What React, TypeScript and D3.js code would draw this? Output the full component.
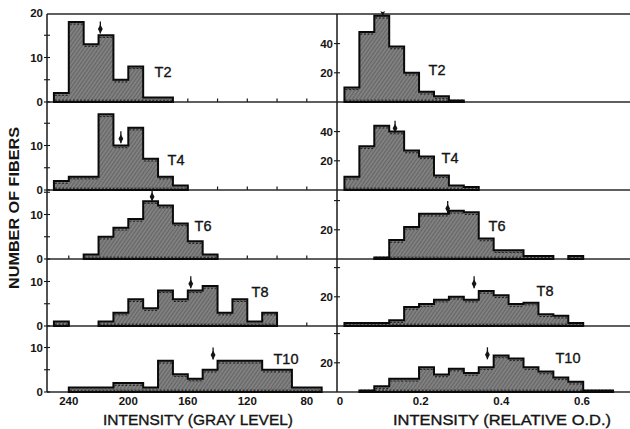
import React from 'react';
import * as d3 from 'd3';

// ---------- DATA ----------
const panelNames = ['T2', 'T4', 'T6', 'T8', 'T10'];

// Left: gray-level histograms, bins of 10 starting at 250 and going down
const leftBinStart = 250;
const leftBinWidth = -10;
const leftT2 = [2, 18, 13, 15, 5, 8, 1, 1];
const leftT4 = [2, 3, 3, 17, 10, 14, 7, 3, 1];
const leftT6 = [0, 0, 1, 5, 7, 9, 13, 12, 8, 4, 1];
const leftT8 = [1, 0, 0, 1, 3, 6, 4, 8, 6, 8, 9, 3, 6, 1, 3];
const leftT10 = [0, 1, 1, 1, 2, 2, 1, 7, 4, 3, 5, 7, 7, 7, 5, 5, 1, 1];
const leftCounts = [leftT2, leftT4, leftT6, leftT8, leftT10];

// Right: relative O.D. histograms
const rightBinStart = 0.011;
const rightBinWidth = 0.037;
const rightT2 = [10, 48, 59, 38, 20, 7, 4, 1];
const rightT4 = [9, 30, 44, 40, 27, 23, 10, 3, 2];
const rightT6 = [0, 0, 1, 13, 22, 31, 31, 33, 32, 14, 6, 6, 2, 2, 0, 2];
const rightT8 = [2, 2, 2, 4, 13, 15, 18, 20, 18, 24, 21, 15, 16, 8, 7, 2];
const rightT10 = [0, 1, 4, 9, 9, 17, 12, 16, 13, 17, 25, 23, 17, 14, 10, 7, 1, 1];
const rightCounts = [rightT2, rightT4, rightT6, rightT8, rightT10];

// Mean markers (arrows): position and level they point at
const leftArrowX = [218.8, 205, 184, 158, 143];
const leftArrowY = [15.4, 10.5, 13, 8.5, 7.3];
const rightArrowX = [0.106, 0.1365, 0.267, 0.3325, 0.3655];
const rightArrowY = [59, 39.2, 31.5, 25.8, 22.4];

const leftXTickLabels = [240, 200, 160, 120, 80];
const leftXMinorTicks = [240, 220, 200, 180, 160, 140, 120, 100, 80];
const rightXTickLabels = [0, 0.2, 0.4, 0.6];
const leftYTicks = [0, 5, 10, 15, 20];
const rightYTicks = [20, 40];

// ---------- LAYOUT ----------
const W = 630;
const H = 429;
const AX_L = 47;
const AX_M = 337;
const X_END = 630;
const TOP = 14;
const bases = [102, 190, 259, 326, 392];
const tops = [14, 102, 190, 259, 326];
const labelPosL: [number, number][] = [[163, 72], [176, 160], [203, 226], [260, 292], [286, 359]];
const labelPosR: [number, number][] = [[437, 70], [450, 158], [497, 226], [545, 291], [568, 358]];

const xL = d3.scaleLinear().domain([240, 80]).range([68.8, 306.8]);
const xR = d3.scaleLinear().domain([0, 0.6]).range([340, 582]);
const yLeft = (i: number) => d3.scaleLinear().domain([0, 20]).range([bases[i], bases[i] - 89]);
const yRight = (i: number) => d3.scaleLinear().domain([0, 60]).range([bases[i], bases[i] - 87.6]);

const FONT = '"Liberation Sans", Arial, Helvetica, sans-serif';
const INK = '#141414';

function Histogram({ counts, start, width, x, y }: any) {
  const edge = (i: number) => x(start + i * width);
  // split into runs of non-zero bins
  const runs: [number, number][] = [];
  let s = -1;
  for (let i = 0; i <= counts.length; i++) {
    const c = i < counts.length ? counts[i] : 0;
    if (c > 0 && s < 0) s = i;
    if (c <= 0 && s >= 0) { runs.push([s, i - 1]); s = -1; }
  }
  const out: any[] = [];
  runs.forEach(([i0, i1], r) => {
    let d = `M${edge(i0)},${y(0)}`;
    for (let i = i0; i <= i1; i++) {
      d += `L${edge(i)},${y(counts[i])}L${edge(i + 1)},${y(counts[i])}`;
    }
    d += `L${edge(i1 + 1)},${y(0)}Z`;
    out.push(<path key={`f${r}`} d={d} fill="url(#hatch)" stroke="none" />);
    for (let i = i0; i <= i1; i++) {
      const xa = Math.min(edge(i), edge(i + 1));
      const xb = Math.max(edge(i), edge(i + 1));
      const yy = y(counts[i]) + 2.2;
      if (yy < y(0) - 2.5) {
        out.push(
          <line key={`d${r}-${i}`} x1={xa + 1} x2={xb - 1} y1={yy} y2={yy}
            stroke="#111" strokeWidth={0.9} strokeDasharray="2 1.6" />
        );
      }
    }
    const xa = Math.min(edge(i0), edge(i1 + 1));
    const xb = Math.max(edge(i0), edge(i1 + 1));
    out.push(
      <line key={`b${r}`} x1={xa + 1} x2={xb - 1} y1={y(0) - 1.8} y2={y(0) - 1.8}
        stroke="#111" strokeWidth={0.9} strokeDasharray="2 1.6" />
    );
    out.push(<path key={`o${r}`} d={d} fill="none" stroke="#0a0a0a" strokeWidth={2} strokeLinejoin="miter" />);
  });
  return <g>{out}</g>;
}

function Arrow({ x, yBottom, minTop }: { x: number; yBottom: number; minTop: number }) {
  const top = Math.max(yBottom - 12, minTop);
  const b = yBottom;
  const headTop = Math.max(b - 9, top);
  return (
    <g>
      <line x1={x} x2={x} y1={top} y2={b} stroke={INK} strokeWidth={1.3} />
      <path d={`M${x},${b}L${x - 2.4},${b - 4.5}L${x},${headTop}L${x + 2.4},${b - 4.5}Z`} fill={INK} />
    </g>
  );
}

export default function App() {
  const els: any[] = [];

  for (let p = 0; p < 5; p++) {
    const yl = yLeft(p);
    const yr = yRight(p);
    leftXMinorTicks.forEach((t) => {
      els.push(<line key={`lt${p}-${t}`} x1={xL(t)} x2={xL(t)} y1={bases[p]} y2={bases[p] - 3.5} stroke={INK} strokeWidth={1.2} />);
    });
    els.push(<line key={`base${p}`} x1={AX_L} x2={X_END} y1={bases[p]} y2={bases[p]} stroke="#2a2a2a" strokeWidth={1.3} />);
    leftYTicks.forEach((v) => {
      const yy = yl(v);
      if (yy < tops[p] - 2) return;
      const isTop = yy < tops[p] + 2;
      if (!isTop) {
        els.push(<line key={`lyt${p}-${v}`} x1={AX_L - 3} x2={AX_L + 3} y1={yy} y2={yy} stroke={INK} strokeWidth={1.1} />);
      }
      if (v % 10 === 0 && (!isTop || p === 0)) {
        els.push(
          <text key={`lyl${p}-${v}`} x={AX_L - 4} y={yy} dy="0.36em" textAnchor="end"
            fontFamily={FONT} fontWeight="bold" fontSize={11.5} fill={INK}>{v}</text>
        );
      }
    });
    rightYTicks.forEach((v) => {
      const yy = yr(v);
      if (yy < tops[p] + 2) return;
      els.push(<line key={`ryt${p}-${v}`} x1={AX_M - 3} x2={AX_M + 3} y1={yy} y2={yy} stroke={INK} strokeWidth={1.1} />);
      if (v === 20 || p < 2) {
        els.push(
          <text key={`ryl${p}-${v}`} x={AX_M - 4} y={yy} dy="0.36em" textAnchor="end"
            fontFamily={FONT} fontWeight="bold" fontSize={11.5} fill={INK}>{v}</text>
        );
      }
    });
  }

  const hists: any[] = [];
  for (let p = 0; p < 5; p++) {
    hists.push(<Histogram key={`hl${p}`} counts={leftCounts[p]} start={leftBinStart} width={leftBinWidth} x={xL} y={yLeft(p)} />);
    hists.push(<Histogram key={`hr${p}`} counts={rightCounts[p]} start={rightBinStart} width={rightBinWidth} x={xR} y={yRight(p)} />);
    hists.push(<Arrow key={`al${p}`} x={xL(leftArrowX[p])} yBottom={yLeft(p)(leftArrowY[p])} minTop={tops[p] - 2} />);
    hists.push(<Arrow key={`ar${p}`} x={xR(rightArrowX[p])} yBottom={yRight(p)(rightArrowY[p])} minTop={tops[p] - 2} />);
    hists.push(
      <text key={`tl${p}`} x={labelPosL[p][0]} y={labelPosL[p][1]} dy="0.36em" textAnchor="middle"
        fontFamily={FONT} fontSize={14.5} fill={INK} stroke={INK} strokeWidth={0.35}>{panelNames[p]}</text>
    );
    hists.push(
      <text key={`tr${p}`} x={labelPosR[p][0]} y={labelPosR[p][1]} dy="0.36em" textAnchor="middle"
        fontFamily={FONT} fontSize={14.5} fill={INK} stroke={INK} strokeWidth={0.35}>{panelNames[p]}</text>
    );
  }

  return (
    <svg width={W} height={H} viewBox={`0 0 ${W} ${H}`}
      style={{ position: 'absolute', left: 0, top: 0, background: '#fff' }}>
      <defs>
        <pattern id="hatch" width="3" height="3" patternUnits="userSpaceOnUse" patternTransform="rotate(35)">
          <rect width="3" height="3" fill="#808080" />
          <line x1="0" y1="0" x2="0" y2="3" stroke="#555" strokeWidth="1.3" />
        </pattern>
      </defs>
      <rect width={W} height={H} fill="#fff" />
      {els}
      <line x1={AX_L} x2={X_END} y1={TOP} y2={TOP} stroke="#2a2a2a" strokeWidth={1.3} />
      <line x1={AX_L} x2={AX_L} y1={TOP} y2={bases[4]} stroke="#1a1a1a" strokeWidth={1.5} />
      <line x1={AX_M} x2={AX_M} y1={TOP} y2={bases[4]} stroke="#1a1a1a" strokeWidth={1.5} />
      {hists}
      {leftXTickLabels.map((t) => (
        <text key={`bx${t}`} x={xL(t)} y={405} textAnchor="middle" fontFamily={FONT}
          fontWeight="bold" fontSize={11.5} fill={INK}>{t}</text>
      ))}
      {rightXTickLabels.map((t) => (
        <text key={`bxr${t}`} x={xR(t)} y={405} textAnchor="middle" fontFamily={FONT}
          fontWeight="bold" fontSize={11.5} fill={INK}>{t === 0 ? '0' : d3.format('.1f')(t)}</text>
      ))}
      <text x={198} y={425} textAnchor="middle" fontFamily={FONT} fontSize={14.5} fill={INK}
        stroke={INK} strokeWidth={0.35}
        textLength={190} lengthAdjust="spacingAndGlyphs">INTENSITY (GRAY LEVEL)</text>
      <text x={502} y={425} textAnchor="middle" fontFamily={FONT} fontSize={14.5} fill={INK}
        stroke={INK} strokeWidth={0.35}
        textLength={218} lengthAdjust="spacingAndGlyphs">INTENSITY (RELATIVE O.D.)</text>
      <text transform={`translate(19,208) rotate(-90)`} textAnchor="middle" fontFamily={FONT}
        fontWeight="bold" fontSize={15} fill={INK} textLength={162} lengthAdjust="spacingAndGlyphs">
        NUMBER OF FIBERS
      </text>
    </svg>
  );
}
